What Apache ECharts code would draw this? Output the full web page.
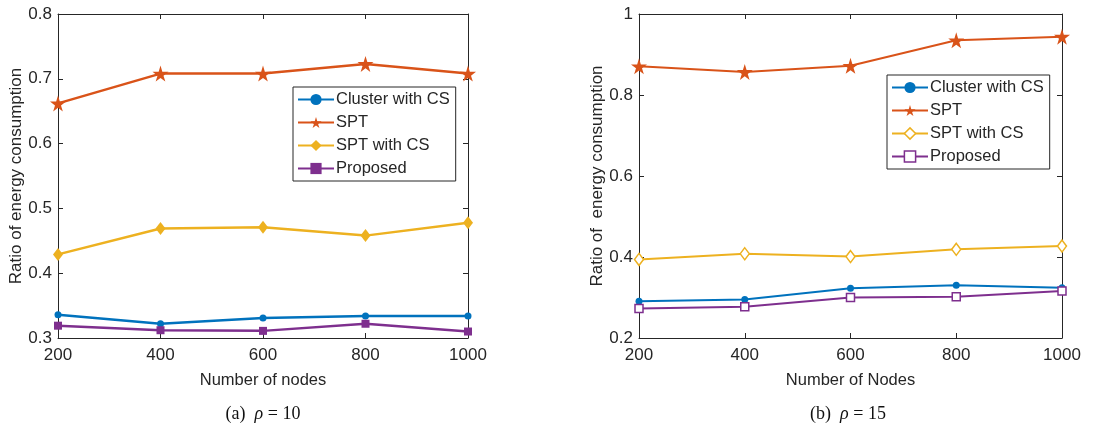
<!DOCTYPE html>
<html>
<head>
<meta charset="utf-8">
<script src="https://cdn.jsdelivr.net/npm/echarts@6/dist/echarts.min.js"></script>
<style>
  html, body { margin: 0; padding: 0; background: #fff; }
  #main { width: 1102px; height: 436px; }
</style>
</head>
<body>
<div id="main"></div>
<script>
// x values (number of nodes)
const nodes = [200, 400, 600, 800, 1000];
const seriesNames = ['Cluster with CS', 'SPT', 'SPT with CS', 'Proposed'];

// (a) rho = 10
const clusterA  = [0.336, 0.322, 0.331, 0.334, 0.334];
const sptA      = [0.662, 0.708, 0.708, 0.723, 0.708];
const sptCsA    = [0.429, 0.469, 0.471, 0.458, 0.478];
const proposedA = [0.319, 0.312, 0.311, 0.322, 0.310];

// (b) rho = 15
const clusterB  = [0.291, 0.295, 0.323, 0.330, 0.324];
const sptB      = [0.871, 0.857, 0.872, 0.935, 0.944];
const sptCsB    = [0.394, 0.408, 0.401, 0.419, 0.427];
const proposedB = [0.273, 0.277, 0.300, 0.302, 0.316];

const xTicks = [200, 400, 600, 800, 1000];
const yTicksA = [0.3, 0.4, 0.5, 0.6, 0.7, 0.8];
const yTicksB = [0.2, 0.4, 0.6, 0.8, 1];

const colors = ['#0072BD', '#D95319', '#EDB120', '#7E2F8E'];
const star = 'path://M50,0 L61,35 L98,35 L68,57 L79,91 L50,70 L21,91 L32,57 L2,35 L39,35 Z';
const symbols = ['circle', star, 'diamond', 'rect'];
const symSizesA = [7, 16, [10, 13], 8];
const symSizesB = [7, 16, [9, 12], 8];
const ink = '#262626';
const font = '"Liberation Sans", Arial, sans-serif';

function pairs(vals) {
  return nodes.map((n, i) => [n, vals[i]]);
}

function pickTick(ticks, v) {
  const t = ticks.find(x => Math.abs(x - v) < 1e-9);
  return t === undefined ? '' : String(t);
}

function mkSeries(idx, vals, g, hollow) {
  const c = colors[idx];
  const open = hollow && idx >= 2;
  return {
    name: seriesNames[idx],
    type: 'line',
    xAxisIndex: g * 2,
    yAxisIndex: g * 2,
    data: pairs(vals),
    symbol: symbols[idx],
    symbolSize: g === 0 ? symSizesA[idx] : symSizesB[idx],
    showAllSymbol: true,
    lineStyle: { color: c, width: g === 0 ? 2.5 : 2 },
    itemStyle: {
      color: open ? '#fff' : c,
      borderColor: c,
      borderWidth: open ? 1.5 : 0
    },
    emphasis: { disabled: true },
    animation: false,
    z: 3
  };
}

function mainX(g) {
  return {
    type: 'value', gridIndex: g, position: 'bottom',
    min: 200, max: 1000, interval: 200,
    name: g === 0 ? 'Number of nodes' : 'Number of Nodes',
    nameLocation: 'middle', nameGap: 34,
    nameTextStyle: { color: ink, fontSize: 16.5, fontFamily: font },
    axisLine: { show: true, lineStyle: { color: ink, width: 1 } },
    axisTick: { show: true, inside: true, length: 5, lineStyle: { color: ink } },
    axisLabel: {
      color: ink, fontSize: 17, fontFamily: font, margin: 9,
      formatter: v => pickTick(xTicks, v)
    },
    splitLine: { show: false }
  };
}
function topX(g) {
  return {
    type: 'value', gridIndex: g, position: 'top',
    min: 200, max: 1000, interval: 200,
    axisLine: { show: true, lineStyle: { color: ink, width: 1 } },
    axisTick: { show: true, inside: true, length: 5, lineStyle: { color: ink } },
    axisLabel: { show: false },
    splitLine: { show: false }
  };
}
function mainY(g, ticks, name) {
  return {
    type: 'value', gridIndex: g, position: 'left',
    min: ticks[0], max: ticks[ticks.length - 1],
    interval: ticks[1] - ticks[0],
    name: name, nameLocation: 'middle', nameGap: g === 0 ? 32 : 32,
    nameTextStyle: { color: ink, fontSize: 17, fontFamily: font },
    axisLine: { show: true, lineStyle: { color: ink, width: 1 } },
    axisTick: { show: true, inside: true, length: 5, lineStyle: { color: ink } },
    axisLabel: {
      color: ink, fontSize: 17, fontFamily: font, margin: 6,
      formatter: v => pickTick(ticks, v)
    },
    splitLine: { show: false }
  };
}
function rightY(g, ticks) {
  return {
    type: 'value', gridIndex: g, position: 'right',
    min: ticks[0], max: ticks[ticks.length - 1],
    interval: ticks[1] - ticks[0],
    axisLine: { show: true, lineStyle: { color: ink, width: 1 } },
    axisTick: { show: true, inside: true, length: 5, lineStyle: { color: ink } },
    axisLabel: { show: false },
    splitLine: { show: false }
  };
}

function mkLegend(pos, hollow) {
  return {
    orient: 'vertical',
    left: pos.left, top: pos.top,
    data: seriesNames.map((n, i) => ({
      name: n,
      itemStyle: {
        color: (hollow && i >= 2) ? '#fff' : colors[i],
        borderColor: colors[i],
        borderWidth: (hollow && i >= 2) ? 1.5 : 0
      }
    })),
    itemWidth: 36, itemHeight: 14, itemGap: 6,
    padding: [4, 6, 4, 4],
    borderColor: ink, borderWidth: 1,
    backgroundColor: '#fff',
    selectedMode: false,
    textStyle: { color: ink, fontSize: 16.5, fontFamily: font, padding: [0, 0, 0, -3] }
  };
}

const chart = echarts.init(document.getElementById('main'), null, { renderer: 'canvas' });

const captionStyle = {
  color: '#111', fontSize: 18, fontWeight: 'normal', fontFamily: '"Liberation Serif", serif',
  rich: { i: { fontStyle: 'italic', fontSize: 18, fontFamily: '"Liberation Serif", serif' } }
};

const option = {
  backgroundColor: '#fff',
  animation: false,
  title: [
    { text: '(a)  {i|ρ} = 10', left: 258, top: 400, textAlign: 'center', textStyle: captionStyle },
    { text: '(b)  {i|ρ} = 15', left: 843, top: 400, textAlign: 'center', textStyle: captionStyle }
  ],
  legend: [
    mkLegend({ left: 293, top: 87 }, false),
    mkLegend({ left: 887, top: 75 }, true)
  ],
  grid: [
    { left: 58, top: 14, width: 410, height: 324 },
    { left: 639, top: 14, width: 423, height: 324 }
  ],
  xAxis: [mainX(0), topX(0), mainX(1), topX(1)],
  yAxis: [
    mainY(0, yTicksA, 'Ratio of energy consumption'), rightY(0, yTicksA),
    mainY(1, yTicksB, 'Ratio of  energy consumption'), rightY(1, yTicksB)
  ],
  series: [
    mkSeries(0, clusterA, 0, false),
    mkSeries(1, sptA, 0, false),
    mkSeries(2, sptCsA, 0, false),
    mkSeries(3, proposedA, 0, false),
    mkSeries(0, clusterB, 1, true),
    mkSeries(1, sptB, 1, true),
    mkSeries(2, sptCsB, 1, true),
    mkSeries(3, proposedB, 1, true)
  ]
};

chart.setOption(option);
</script>
</body>
</html>
